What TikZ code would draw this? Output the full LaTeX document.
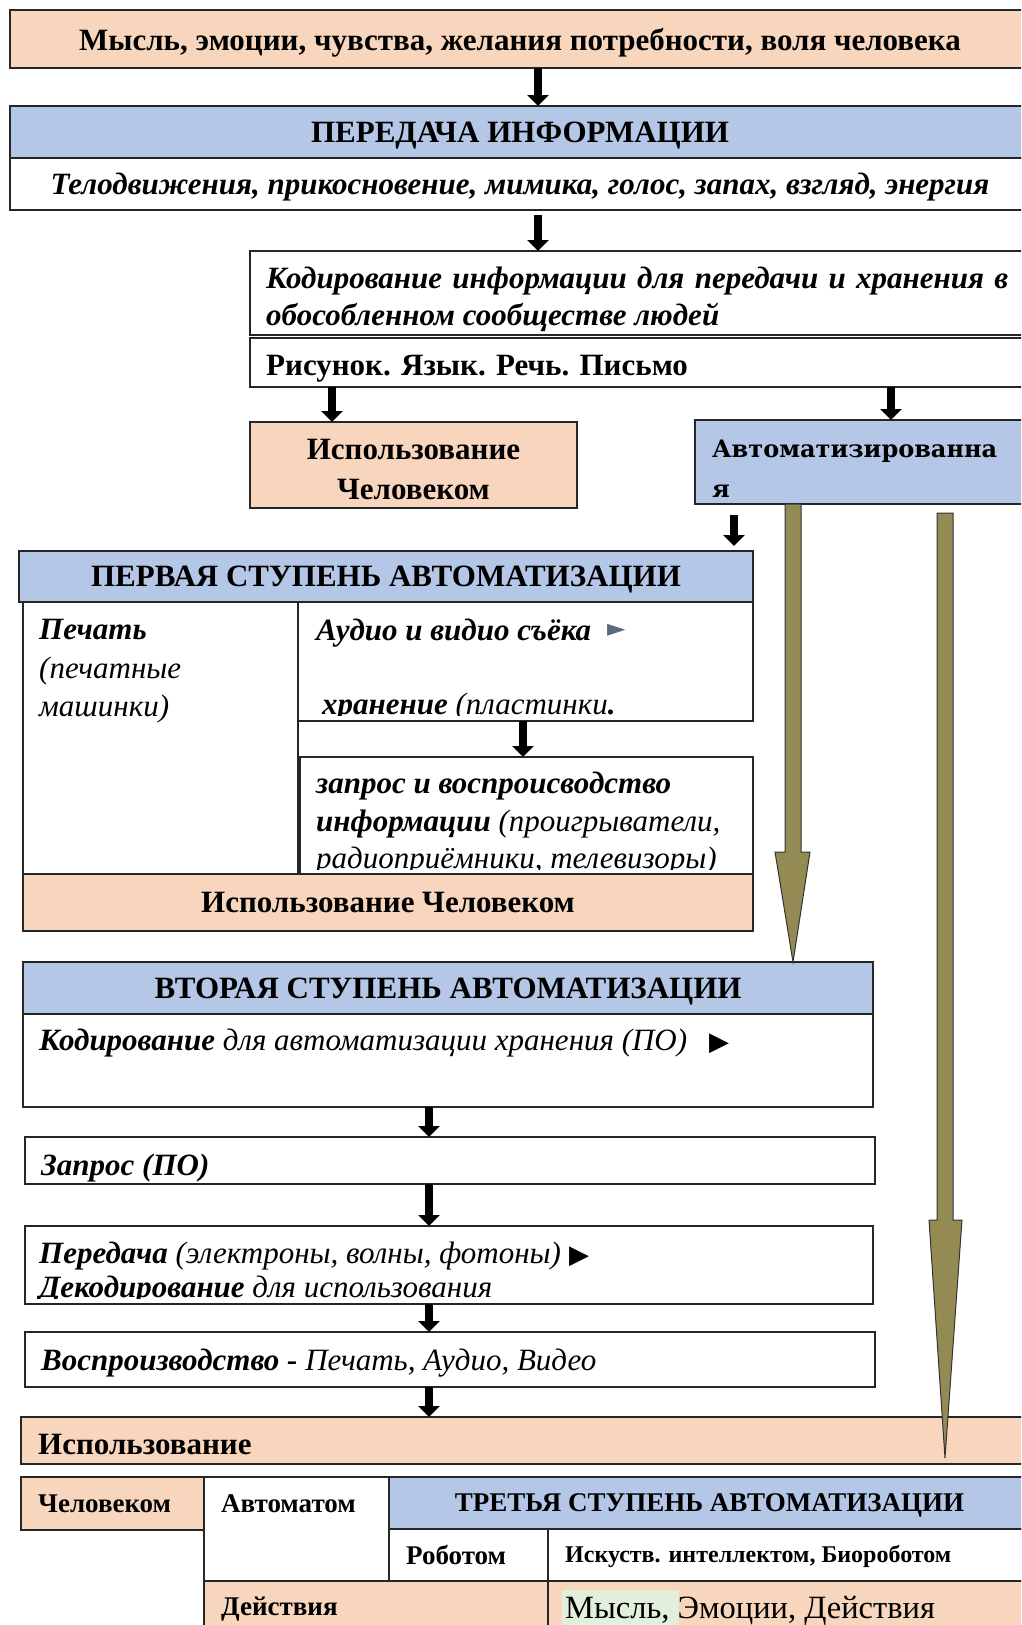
\documentclass[tikz,border=0pt]{standalone}
\usepackage{fontspec}
\setmainfont{Liberation Serif}
\newfontfamily\wideserif{DejaVu Serif}
\newfontfamily\symfont{DejaVu Sans}
\usetikzlibrary{arrows.meta}

\definecolor{peach}{RGB}{248,214,189}
\definecolor{bluecell}{RGB}{180,199,231}
\definecolor{olivearr}{RGB}{148,138,84}
\definecolor{hlgreen}{RGB}{226,239,218}
\definecolor{greytri}{RGB}{90,105,125}

\newcommand{\hdr}{\bfseries\fontsize{31}{34}\selectfont}
\newcommand{\bodyfont}{\fontsize{31}{38}\selectfont}
\newcommand{\tabfont}{\fontsize{27}{32}\selectfont}
\newcommand{\tri}{{\symfont\fontsize{26}{26}\selectfont ▶}}

\tikzset{
  box/.style={draw=black!85, line width=1.2pt, anchor=north west, inner sep=0pt, outer sep=0pt},
  hd/.style={text depth=0pt},
  txt/.style={anchor=west, inner sep=0pt, font=\bodyfont},
  blk/.style={line width=8pt, -{Triangle[width=21pt,length=11pt]}},
  olv/.style={fill=olivearr, draw=black!80, line width=1pt, line join=miter},
}

\begin{document}
\begin{tikzpicture}[x=1pt, y=-1pt]
  \clip (0,0) rectangle (1021,1625);
  \fill[white] (0,0) rectangle (1021,1625);

  % Top boxes:
  \node[box, hd, fill=peach, minimum width=1020pt, minimum height=58pt, font=\hdr] (mysl) at (10,10)
    {Мысль, эмоции, чувства, желания потребности, воля человека};
  \node[box, hd, fill=bluecell, minimum width=1020pt, minimum height=52pt, font=\hdr] (pered) at (10,106)
    {ПЕРЕДАЧА ИНФОРМАЦИИ};
  \node[box, hd, minimum width=1020pt, minimum height=52pt, font=\bodyfont\bfseries\itshape] (telo) at (10,158)
    {Телодвижения, прикосновение, мимика, голос, запах, взгляд, энергия};
  \node[box, minimum width=780pt, minimum height=84pt] (kod) at (250,251) {};
  \node[txt, anchor=north west, text width=742pt, align=justify, font=\bfseries\itshape\fontsize{31}{36.5}\selectfont] (kodtxt) at (266,267)
    {Кодирование информации для передачи и хранения в обособленном сообществе людей};
  \node[box, minimum width=780pt, minimum height=49pt] (ris) at (250,338) {};
  \node[txt, font=\bodyfont\bfseries] (ristxt) at (266,369) {Рисунок. Язык. Речь. Письмо};
  \node[box, fill=peach, minimum width=327pt, minimum height=86pt] (ispch) at (250,422) {};
  \node[align=center, inner sep=0pt, font=\hdr] (ispchtxt) at ([yshift=-4pt]ispch.center)
    {Использование\\[6pt]Человеком};
  \node[box, fill=bluecell, minimum width=335pt, minimum height=84pt] (avto) at (695,420) {};
  \node[txt, anchor=north west, align=left, font=\wideserif\bfseries\fontsize{24}{40}\selectfont] (avtotxt) at (712,440)
    {Автоматизированна\\я};

  \draw[blk] (538,0 |- mysl.south) -- (538,0 |- pered.north);
  \draw[blk, shorten <=5pt] (538,0 |- telo.south) -- (538,0 |- kod.north);
  \draw[blk] (332,0 |- ris.south) -- (332,0 |- ispch.north);
  \draw[blk] (891,0 |- ris.south) -- (891,0 |- avto.north);
  \draw[blk, shorten <=11pt, shorten >=5pt] (734,0 |- avto.south) -- (734,551);

  % First stage:
  \node[box, hd, fill=bluecell, minimum width=734pt, minimum height=51pt, font=\hdr] (perv) at (19,551)
    {ПЕРВАЯ СТУПЕНЬ АВТОМАТИЗАЦИИ};
  \node[box, minimum width=275pt, minimum height=272pt] (pech) at (23,602) {};
  \node[txt, anchor=north west, align=left, font=\itshape\fontsize{31}{38.5}\selectfont] (pechtxt) at (39,619)
    {\textbf{Печать}\\(печатные\\машинки)};
  \node[box, minimum width=455pt, minimum height=119pt] (audio) at (298,602) {};
  \node[txt, font=\bodyfont\bfseries\itshape] (audiotxt) at (316,633) {Аудио и видио съёка};
  \node[txt, text=greytri, font=\symfont\fontsize{24}{24}\selectfont] (audiotri) at (607,630) {►};
  \begin{scope}
    \clip (audio.north west) rectangle ([yshift=6pt]audio.south east);
    \node[txt, font=\bodyfont\itshape] (hran) at (322,707) {\textbf{хранение} (пластинки\textbf{.}};
  \end{scope}
  \draw[blk] (523,0 |- audio.south) -- (523,757);
  \node[box, minimum width=453pt, minimum height=117pt] (zapros) at (300,757) {};
  \begin{scope}
    \clip (zapros.north west) rectangle ([yshift=5pt]zapros.south east);
    \node[txt, anchor=north west, align=left, font=\itshape\fontsize{31}{37.3}\selectfont] (zaprostxt) at (316,772)
      {\textbf{запрос и воспроисводство}\\\textbf{информации} (проигрыватели,\\радиоприёмники, телевизоры)};
  \end{scope}
  \node[box, fill=peach, minimum width=730pt, minimum height=57pt, font=\hdr] (ispch2) at (23,874)
    {Использование Человеком};

  % Second stage:
  \node[box, hd, fill=bluecell, minimum width=850pt, minimum height=52pt, font=\hdr] (vtor) at (23,962)
    {ВТОРАЯ СТУПЕНЬ АВТОМАТИЗАЦИИ};
  \node[box, minimum width=850pt, minimum height=93pt] (vkod) at (23,1014) {};
  \node[txt, font=\bodyfont\itshape] (vkodtxt) at (39,1043)
    {\textbf{Кодирование} для автоматизации хранения (ПО)\hspace{22pt}\tri};
  \node[box, minimum width=850pt, minimum height=47pt] (zapr) at (25,1137) {};
  \begin{scope}
    \clip (zapr.north west) rectangle ([yshift=3pt]zapr.south east);
    \node[txt, font=\bodyfont\bfseries\itshape] (zaprtxt) at (41,1168) {Запрос (ПО)};
  \end{scope}
  \node[box, minimum width=848pt, minimum height=78pt] (pered2) at (25,1226) {};
  \begin{scope}
    \clip (pered2.north west) rectangle ([yshift=6pt]pered2.south east);
    \node[txt, anchor=north west, align=left, font=\itshape\fontsize{31}{34}\selectfont] (pered2txt) at (39,1242)
      {\textbf{Передача} (электроны, волны, фотоны)\hspace{8pt}\tri\\\textbf{Декодирование} для использования};
  \end{scope}
  \node[box, minimum width=850pt, minimum height=55pt] (vospr) at (25,1332) {};
  \node[txt, font=\bodyfont\itshape] (vosprtxt) at (41,1363) {\textbf{Воспроизводство -} Печать, Аудио, Видео};
  \node[box, fill=peach, minimum width=1009pt, minimum height=47pt] (isp) at (21,1417) {};
  \node[txt, font=\hdr] (isptxt) at (38,1444) {Использование};

  \foreach \a/\b in {vkod/zapr, zapr/pered2, pered2/vospr, vospr/isp}
    \draw[blk] (429,0 |- \a.south) -- (429,0 |- \b.north);

  % Olive arrows:
  \draw[olv] (785,0 |- avto.south) -- (801,0 |- avto.south) -- (801,852) -- (810,852)
    -- (793,0 |- vtor.north) -- (775,852) -- (785,852) -- cycle;
  \draw[olv] (937,513) -- (953,513) -- (953,1220) -- (962,1220)
    -- (945,1458) -- (929,1220) -- (937,1220) -- cycle;

  % Third stage table:
  \node[box, fill=peach, minimum width=183pt, minimum height=53pt] (chel) at (21,1477) {};
  \node[txt, font=\tabfont\bfseries] (cheltxt) at (38,1504) {Человеком};
  \node[box, minimum width=185pt, minimum height=104pt] (avtom) at (204,1477) {};
  \node[txt, font=\tabfont\bfseries] (avtomtxt) at (221,1504) {Автоматом};
  \node[box, hd, fill=bluecell, minimum width=641pt, minimum height=52pt, font=\tabfont\bfseries] (tret) at (389,1477)
    {ТРЕТЬЯ СТУПЕНЬ АВТОМАТИЗАЦИИ};
  \node[box, minimum width=159pt, minimum height=52pt] (robot) at (389,1529) {};
  \node[txt, font=\tabfont\bfseries] (robottxt) at (406,1555) {Роботом};
  \node[box, minimum width=482pt, minimum height=52pt] (iskus) at (548,1529) {};
  \node[txt, font=\bfseries\fontsize{24}{28}\selectfont] (iskustxt) at (565,1556) {Искуств. интеллектом, Биороботом};
  \node[box, fill=peach, minimum width=344pt, minimum height=60pt] (deyst) at (204,1581) {};
  \node[txt, font=\tabfont\bfseries] (deysttxt) at (221,1609) {Действия};
  \node[box, fill=peach, minimum width=482pt, minimum height=60pt] (mysl2) at (548,1581) {};
  \fill[hlgreen] (562,1590) rectangle (679,1625);
  \node[txt, font=\fontsize{32.5}{36}\selectfont] (mysl2txt) at (565,1611) {Мысль, Эмоции, Действия};
\end{tikzpicture}
\end{document}
